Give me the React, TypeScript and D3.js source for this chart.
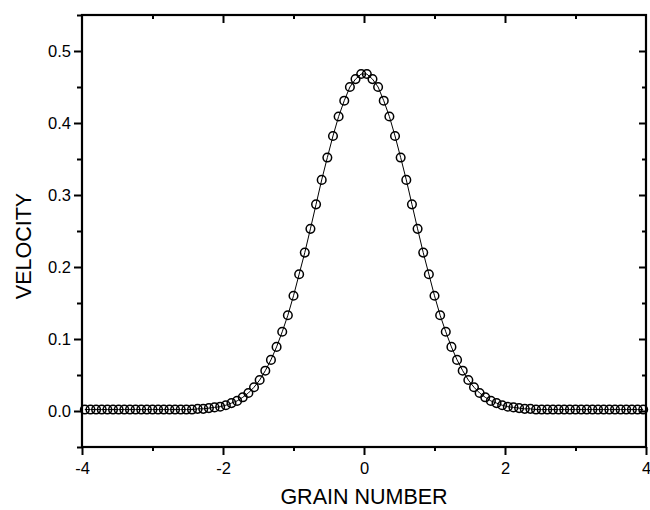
import React, { useEffect, useRef } from "react";
import * as d3 from "d3";

// grain positions (x) and velocity
const grain = [
  -3.96, -3.88, -3.8, -3.72, -3.64, -3.56, -3.48, -3.4, -3.32, -3.24,
  -3.16, -3.08, -3.0, -2.92, -2.84, -2.76, -2.68, -2.6, -2.52, -2.44,
  -2.36, -2.28, -2.2, -2.12, -2.04, -1.96, -1.88, -1.8, -1.72, -1.64,
  -1.56, -1.48, -1.4, -1.32, -1.24, -1.16, -1.08, -1.0, -0.92, -0.84,
  -0.76, -0.68, -0.6, -0.52, -0.44, -0.36, -0.28, -0.2, -0.12, -0.04,
  0.04, 0.12, 0.2, 0.28, 0.36, 0.44, 0.52, 0.6, 0.68, 0.76,
  0.84, 0.92, 1.0, 1.08, 1.16, 1.24, 1.32, 1.4, 1.48, 1.56,
  1.64, 1.72, 1.8, 1.88, 1.96, 2.04, 2.12, 2.2, 2.28, 2.36,
  2.44, 2.52, 2.6, 2.68, 2.76, 2.84, 2.92, 3.0, 3.08, 3.16,
  3.24, 3.32, 3.4, 3.48, 3.56, 3.64, 3.72, 3.8, 3.88, 3.96,
];

const velocity = [
  0.002, 0.002, 0.002, 0.002, 0.002, 0.002, 0.002, 0.002, 0.002, 0.002,
  0.002, 0.002, 0.002, 0.002, 0.002, 0.002, 0.002, 0.002, 0.002, 0.002,
  0.003, 0.003, 0.004, 0.005, 0.006, 0.008, 0.011, 0.014, 0.019, 0.025,
  0.033, 0.043, 0.056, 0.071, 0.089, 0.11, 0.133, 0.16, 0.19, 0.22,
  0.253, 0.287, 0.321, 0.352, 0.382, 0.409, 0.431, 0.45, 0.461, 0.468,
  0.468, 0.461, 0.45, 0.431, 0.409, 0.382, 0.352, 0.321, 0.287, 0.253,
  0.22, 0.19, 0.16, 0.133, 0.11, 0.089, 0.071, 0.056, 0.043, 0.033,
  0.025, 0.019, 0.014, 0.011, 0.008, 0.006, 0.005, 0.004, 0.003, 0.003,
  0.002, 0.002, 0.002, 0.002, 0.002, 0.002, 0.002, 0.002, 0.002, 0.002,
  0.002, 0.002, 0.002, 0.002, 0.002, 0.002, 0.002, 0.002, 0.002, 0.002,
];

const xMajor = [-4, -2, 0, 2, 4];
const xMinor = [-3, -1, 1, 3];
const yMajor = [0, 0.1, 0.2, 0.3, 0.4, 0.5];
const yMinor = [-0.05, 0.05, 0.15, 0.25, 0.35, 0.45, 0.55];

const FONT = "'Liberation Sans', Arial, Helvetica, sans-serif";

const App = () => {
  const ref = useRef<SVGSVGElement>(null);

  useEffect(() => {
    const svg = d3.select(ref.current);
    svg.selectAll("*").remove();

    const width = 650;
    const height = 510;
    const left = 82, right = 646, top = 15, bottom = 447;

    const x = d3.scaleLinear().domain([-4, 4]).range([left, right]);
    const y = d3.scaleLinear().domain([-0.05, 0.55]).range([bottom, top]);

    svg.attr("width", width).attr("height", height);

    const styleAxis = (g) => {
      g.select(".domain").remove();
      g.selectAll("line").attr("stroke", "#000").attr("stroke-width", 2);
      g.selectAll("text")
        .attr("font-family", FONT)
        .attr("font-size", 16.5)
        .attr("fill", "#000");
    };

    // left axis
    svg.append("g")
      .attr("transform", `translate(${left},0)`)
      .call(d3.axisLeft(y).tickValues(yMajor).tickSize(8).tickPadding(3).tickFormat(d3.format(".1f")))
      .call(styleAxis);
    svg.append("g")
      .attr("transform", `translate(${left},0)`)
      .call(d3.axisLeft(y).tickValues(yMinor).tickSize(5).tickFormat(() => ""))
      .call(styleAxis);

    // right axis (inward ticks)
    svg.append("g")
      .attr("transform", `translate(${right},0)`)
      .call(d3.axisLeft(y).tickValues(yMajor).tickSize(7).tickFormat(() => ""))
      .call(styleAxis);
    svg.append("g")
      .attr("transform", `translate(${right},0)`)
      .call(d3.axisLeft(y).tickValues(yMinor.slice(1, -1)).tickSize(4).tickFormat(() => ""))
      .call(styleAxis);

    // bottom axis
    svg.append("g")
      .attr("transform", `translate(0,${bottom})`)
      .call(d3.axisBottom(x).tickValues(xMajor).tickSize(8).tickPadding(7).tickFormat(d3.format("d")))
      .call(styleAxis);
    svg.append("g")
      .attr("transform", `translate(0,${bottom})`)
      .call(d3.axisBottom(x).tickValues(xMinor).tickSize(4).tickFormat(() => ""))
      .call(styleAxis);

    // top axis (inward ticks)
    svg.append("g")
      .attr("transform", `translate(0,${top})`)
      .call(d3.axisBottom(x).tickValues(xMajor.slice(1, -1)).tickSize(8).tickFormat(() => ""))
      .call(styleAxis);
    svg.append("g")
      .attr("transform", `translate(0,${top})`)
      .call(d3.axisBottom(x).tickValues(xMinor).tickSize(4).tickFormat(() => ""))
      .call(styleAxis);

    // hyphen style minus like the original
    svg.selectAll("text").text(function () {
      return d3.select(this).text().replace("−", "-");
    });

    // frame
    svg.append("rect")
      .attr("x", left)
      .attr("y", top)
      .attr("width", right - left)
      .attr("height", bottom - top)
      .attr("fill", "none")
      .attr("stroke", "#000")
      .attr("stroke-width", 2.2);

    const pts = grain.map((g, i) => [g, velocity[i]]);

    svg.append("path")
      .datum(pts)
      .attr("fill", "none")
      .attr("stroke", "#000")
      .attr("stroke-width", 1)
      .attr("d", d3.line().x(d => x(d[0])).y(d => y(d[1])));

    svg.selectAll("circle.pt")
      .data(pts)
      .enter()
      .append("circle")
      .attr("class", "pt")
      .attr("cx", d => x(d[0]))
      .attr("cy", d => y(d[1]))
      .attr("r", 4.3)
      .attr("fill", "none")
      .attr("stroke", "#000")
      .attr("stroke-width", 1.5);

    // axis titles
    svg.append("text")
      .attr("x", (left + right) / 2)
      .attr("y", 504)
      .attr("text-anchor", "middle")
      .attr("font-family", FONT)
      .attr("font-size", 21.5)
      .text("GRAIN NUMBER");

    svg.append("text")
      .attr("transform", `translate(31,246) rotate(-90)`)
      .attr("text-anchor", "middle")
      .attr("font-family", FONT)
      .attr("font-size", 21.5)
      .text("VELOCITY");
  }, []);

  return <svg ref={ref} style={{ position: "absolute", left: 0, top: 0, display: "block" }}></svg>;
};

export default App;
